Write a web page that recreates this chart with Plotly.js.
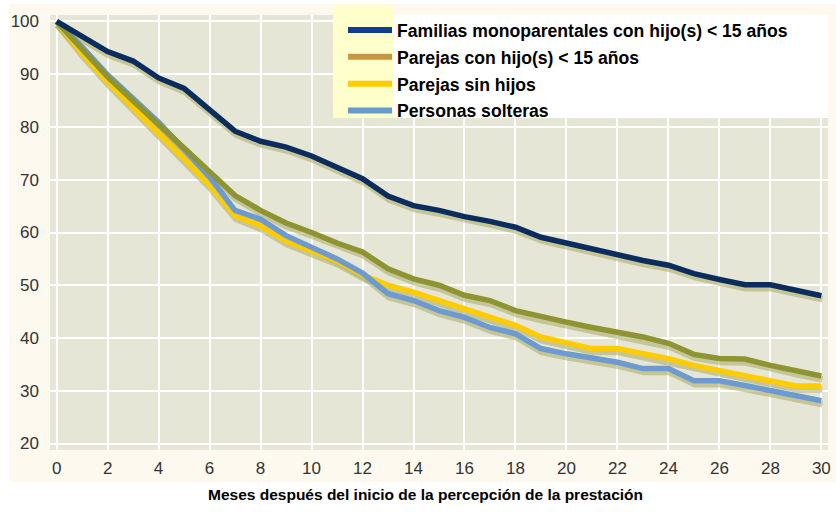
<!DOCTYPE html>
<html>
<head>
<meta charset="utf-8">
<script src="https://cdn.plot.ly/plotly-3.0.1.min.js"></script>
<style>html,body{margin:0;padding:0;background:#fff;}#chart{width:836px;height:520px;}</style>
</head>
<body>
<div id="chart"></div>
<script>
const months = [0,1,2,3,4,5,6,7,8,9,10,11,12,13,14,15,16,17,18,19,20,21,22,23,24,25,26,27,28,29,30];
const familiasMono = [100,97,94.3,92.5,89.3,87.3,83.3,79.2,77.3,76.2,74.5,72.4,70.2,66.9,65.1,64.2,63.0,62.1,61.0,59.1,58.0,56.8,55.6,54.7,53.8,52.2,51.1,50.1,50.1,49.0,48.0];
const parejasConHijos = [100,94.8,89.5,85,80.5,76.2,71.5,67,64.2,61.8,60,58,56.3,53.1,51.2,50,48.1,47.1,45.2,44,43,42,41.1,40.2,39,36.9,36.1,36,34.8,33.8,32.8];
const parejasSinHijos = [100,94,88.6,83.6,78.8,74,69,63.2,61.3,58.4,56.6,54.6,52,50,48.7,47.1,45.5,44,42.4,40.2,39,38,38,37,36.1,34.8,33.8,32.9,31.9,30.9,30.9];
const personasSolteras = [100,95.2,89.9,85.4,80.9,75.8,70.5,64.2,62.5,59.4,57.2,55,52.3,48.4,47.1,45.2,43.9,42,40.8,38,37,36.3,35.4,34.2,34.2,31.9,31.9,31,30,29.1,28.1];
const seriesNames = ["Familias monoparentales con hijo(s) < 15 años","Parejas con hijo(s) < 15 años","Parejas sin hijos","Personas solteras"];
const xTicks = [0,2,4,6,8,10,12,14,16,18,20,22,24,26,28,30];
const yTicks = [20,30,40,50,60,70,80,90,100];
const xTitle = "Meses después del inicio de la percepción de la prestación";

const lineColors = ["#0b2d5e","#8e9431","#ffcc00","#6b9bd1"];
const legendColors = ["#0b3d91","#c8963e","#ffcc00","#6699cc"];
const allSeries = [familiasMono, parejasConHijos, parejasSinHijos, personasSolteras];
const drawOrder = [2,3,1,0];

const XR = [-0.26, 30.26];
const YR = [18.77, 101.23];
const shadowDX = 1/25.45, shadowDY = 3.5/5.275;

const traces = [];
drawOrder.forEach(i => {
  traces.push({x: months, y: allSeries[i], type:'scatter', mode:'lines', xaxis:'x2', yaxis:'y2',
    line:{color:'rgba(175,175,110,0.6)', width:6.5}, showlegend:false, hoverinfo:'skip'});
});
drawOrder.forEach(i => {
  traces.push({x: months, y: allSeries[i], type:'scatter', mode:'lines', xaxis:'x3', yaxis:'y3',
    line:{color:lineColors[i], width:5.5}, name:seriesNames[i], showlegend:false});
});
[0,1,2,3].forEach(i => {
  traces.push({x:[null], y:[null], type:'scatter', mode:'lines', name:seriesNames[i],
    legendgroup:'g'+i, line:{color:legendColors[i], width:6}, showlegend:true});
});

const px2x = p => (p-50)/778;
const py2y = p => (450-p)/435;

const hidden = {visible:false, fixedrange:true};
const layout = {
  width:836, height:520,
  margin:{l:50, r:8, t:15, b:70},
  paper_bgcolor:'#ffffff',
  plot_bgcolor:'rgba(0,0,0,0)',
  font:{family:'"Liberation Sans", Arial, sans-serif', color:'#222'},
  showlegend:true,
  legend:{x:px2x(343), y:py2y(12), xanchor:'left', yanchor:'top', bgcolor:'rgba(0,0,0,0)',
    font:{size:17.6, color:'#000', family:'"Liberation Sans", Arial, sans-serif', weight:'bold'},
    traceorder:'grouped', tracegroupgap:1, itemwidth:44},
  xaxis:{range:XR, tickvals:xTicks, ticks:'', showgrid:true, gridcolor:'#ffffff', gridwidth:2,
    zeroline:false, showline:false, tickfont:{size:17, color:'#333'}, ticklabelstandoff:6},
  yaxis:{range:YR, tickvals:yTicks, ticks:'', showgrid:true, gridcolor:'#ffffff', gridwidth:2,
    zeroline:false, showline:false, tickfont:{size:17, color:'#333'}, ticklabelstandoff:10},
  xaxis2:Object.assign({overlaying:'x', range:[XR[0]-shadowDX, XR[1]-shadowDX]}, hidden),
  yaxis2:Object.assign({overlaying:'y', range:[YR[0]+shadowDY, YR[1]+shadowDY]}, hidden),
  xaxis3:Object.assign({overlaying:'x', range:XR}, hidden),
  yaxis3:Object.assign({overlaying:'y', range:YR}, hidden),
  shapes:[
    {type:'rect', xref:'paper', yref:'paper', x0:px2x(9), x1:px2x(836), y0:py2y(482), y1:py2y(4),
      fillcolor:'#fdf9ee', line:{width:0}, layer:'below'},
    {type:'rect', xref:'paper', yref:'paper', x0:0, x1:1, y0:0, y1:1,
      fillcolor:'#e6e6d6', line:{width:0}, layer:'below'},
    {type:'rect', xref:'paper', yref:'paper', x0:px2x(333), x1:px2x(393), y0:py2y(118), y1:py2y(5),
      fillcolor:'#ffffcc', line:{width:0}, layer:'above'},
    {type:'rect', xref:'paper', yref:'paper', x0:px2x(393), x1:1, y0:py2y(118), y1:1,
      fillcolor:'#ffffff', line:{width:0}, layer:'above'}
  ],
  annotations:[
    {text:xTitle, xref:'paper', yref:'paper', x:px2x(425), y:py2y(494), xanchor:'center', yanchor:'middle',
      showarrow:false, font:{size:15.5, color:'#000', weight:'bold'}}
  ]
};

Plotly.newPlot('chart', traces, layout, {staticPlot:true, displayModeBar:false});
</script>
</body>
</html>
